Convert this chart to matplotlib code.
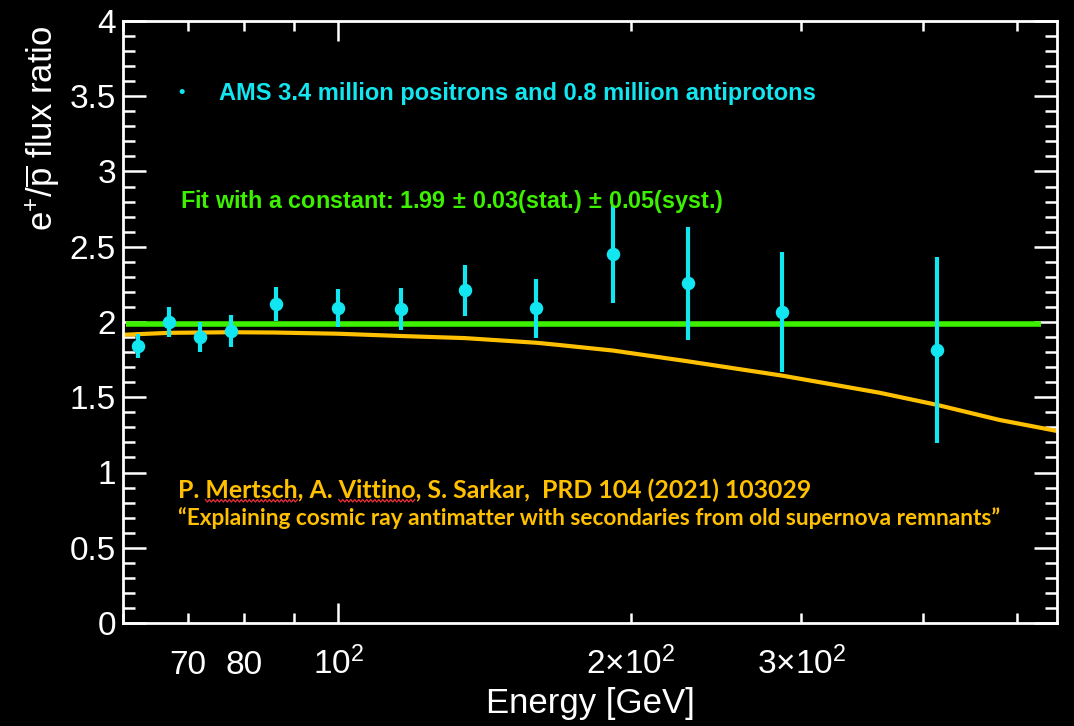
import matplotlib
matplotlib.use("Agg")
import numpy as np
import matplotlib.pyplot as plt
from matplotlib.lines import Line2D
from matplotlib.transforms import IdentityTransform
from matplotlib.ticker import FixedLocator, FuncFormatter, MultipleLocator

# AMS positron / antiproton flux ratio
energy = [62.2, 66.9, 72.0, 77.5, 86.3, 100.0, 115.9, 135.2, 160.0, 191.8, 229.4, 286.7, 414.0]
ratio = [1.84, 2.00, 1.90, 1.94, 2.12, 2.095, 2.085, 2.21, 2.09, 2.45, 2.257, 2.066, 1.814]
ratio_err = [0.08, 0.10, 0.10, 0.105, 0.115, 0.125, 0.14, 0.172, 0.193, 0.325, 0.375, 0.40, 0.618]

# Fit with a constant
fit_value = 1.99
fit_range = [60.5, 530.0]

# Secondaries from old supernova remnants (Mertsch, Vittino, Sarkar 2021)
model_energy = [60, 67, 77.5, 86, 100, 116, 135, 160, 169, 192, 229, 287, 361, 414, 480, 550]
model_ratio = [1.915, 1.928, 1.932, 1.930, 1.922, 1.907, 1.893, 1.862, 1.847, 1.81,
               1.739, 1.643, 1.530, 1.449, 1.349, 1.276]

xtick_major = [100]
xtick_minor = [60, 70, 80, 90, 200, 300, 400, 500]
xtick_labels = {70: "70", 80: "80", 100: r"$10^2$",
                200: r"$2{\times}10^2$", 300: r"$3{\times}10^2$"}

CYAN = "#12e6f0"
GREEN = "#3cf000"
ORANGE = "#ffc000"
WHITE = "white"

plt.rcParams["font.family"] = ["Liberation Sans", "DejaVu Sans"]
plt.rcParams["mathtext.fontset"] = "custom"
plt.rcParams["mathtext.rm"] = "Liberation Sans"
plt.rcParams["mathtext.it"] = "Liberation Sans:italic"
plt.rcParams["mathtext.bf"] = "Liberation Sans:bold"
plt.rcParams["mathtext.default"] = "regular"

W, H = 1074, 726
fig = plt.figure(figsize=(W / 100, H / 100), dpi=100, facecolor="black")
x0, x1, y0, y1 = 123, 1057, 21, 623
ax = fig.add_axes([x0 / W, 1 - y1 / H, (x1 - x0) / W, (y1 - y0) / H])
ax.set_facecolor("black")

ax.set_xscale("log")
ax.set_xlim(60, 550)
ax.set_ylim(0, 4)

for sp in ax.spines.values():
    sp.set_color(WHITE)
    sp.set_linewidth(2.0)

# fit line, model curve, data
ax.plot(fit_range, [fit_value, fit_value], color=GREEN, lw=4.0, solid_capstyle="butt", zorder=2)
ax.plot(model_energy, model_ratio, color=ORANGE, lw=3.0, zorder=2.5)
ax.errorbar(energy, ratio, yerr=ratio_err, fmt="o", color=CYAN, ms=8.7,
            elinewidth=3.0, capsize=0, zorder=3)

# axes ticks
ax.xaxis.set_major_locator(FixedLocator(xtick_major))
ax.xaxis.set_minor_locator(FixedLocator(xtick_minor))
fmt = FuncFormatter(lambda v, p: xtick_labels.get(int(round(v)), ""))
ax.xaxis.set_major_formatter(fmt)
ax.xaxis.set_minor_formatter(fmt)
ax.yaxis.set_major_locator(MultipleLocator(0.5))
ax.yaxis.set_minor_locator(MultipleLocator(0.1))
ax.yaxis.set_major_formatter(FuncFormatter(lambda v, p: "%g" % v))

ax.tick_params(which="both", direction="in", colors=WHITE, top=True, right=True, width=1.8)
ax.tick_params(axis="x", which="major", length=14.5)
ax.tick_params(axis="x", which="minor", length=7.5)
ax.tick_params(axis="y", which="major", length=16.5)
ax.tick_params(axis="y", which="minor", length=8.5)
ax.tick_params(axis="x", which="both", labelsize=24, pad=36.5)
ax.tick_params(axis="y", which="both", labelsize=24, pad=5)
for lbl in ax.get_xticklabels(which="both"):
    lbl.set_va("baseline")

ax.set_xlabel("Energy [GeV]", fontsize=25, color=WHITE, va="center")
ax.xaxis.set_label_coords(0.5, (y1 - 704) / (y1 - y0))
ax.set_ylabel(r"e$^{+}$/$\overline{\mathrm{p}}$ flux ratio", fontsize=25, color=WHITE,
              va="center", ha="center")
ax.yaxis.set_label_coords((42 - x0) / (x1 - x0), (y1 - 128) / (y1 - y0))


def axfrac(px, py):
    return (px - x0) / (x1 - x0), (y1 - py) / (y1 - y0)


ax.text(*axfrac(182, 93), "\u2022", color=CYAN, fontsize=13, fontweight="bold",
        ha="center", va="center", transform=ax.transAxes)
ax.text(*axfrac(219, 94), "AMS 3.4 million positrons and 0.8 million antiprotons",
        color=CYAN, fontsize=17, fontweight="bold", ha="left", va="center",
        transform=ax.transAxes)
ax.text(*axfrac(180, 202),
        r"Fit with a constant: 1.99$\,\pm\,$0.03(stat.)$\,\pm\,$0.05(syst.)",
        color=GREEN, fontsize=16.8, fontweight="bold", ha="left", va="center",
        transform=ax.transAxes)

ref_font = ["Lato", "DejaVu Sans"]
ref_line = "P. Mertsch, A. Vittino, S. Sarkar,  PRD 104 (2021) 103029"
ref_text = ax.text(*axfrac(178, 490), ref_line,
                   color=ORANGE, fontsize=17.9, fontweight="bold", family=ref_font,
                   ha="left", va="center", transform=ax.transAxes)
ax.text(*axfrac(178, 518),
        "\u201cExplaining cosmic ray antimatter with secondaries from old supernova remnants\u201d",
        color=ORANGE, fontsize=16.3, fontweight="bold", family=ref_font,
        ha="left", va="center", transform=ax.transAxes)

# spell-check style wavy underline below the two author surnames
fig.canvas.draw()
renderer = fig.canvas.get_renderer()
line_box = ref_text.get_window_extent(renderer)


def text_width(s):
    t = fig.text(0, 0, s, fontproperties=ref_text.get_fontproperties())
    w = t.get_window_extent(renderer).width
    t.remove()
    return w


for prefix, word in [("P. ", "Mertsch"), ("P. Mertsch, A. ", "Vittino")]:
    end = line_box.x0 + text_width(prefix + word)
    start = end - text_width(word)
    xs = np.arange(start, end + 0.1, 2.0)
    ys = line_box.y0 + 1.0 + np.where(np.arange(len(xs)) % 2 == 0, 1.3, -1.3)
    fig.add_artist(Line2D(xs, ys, transform=IdentityTransform(), color="#e8303a", lw=0.9))

fig.savefig("out.png", dpi=100, facecolor="black")
